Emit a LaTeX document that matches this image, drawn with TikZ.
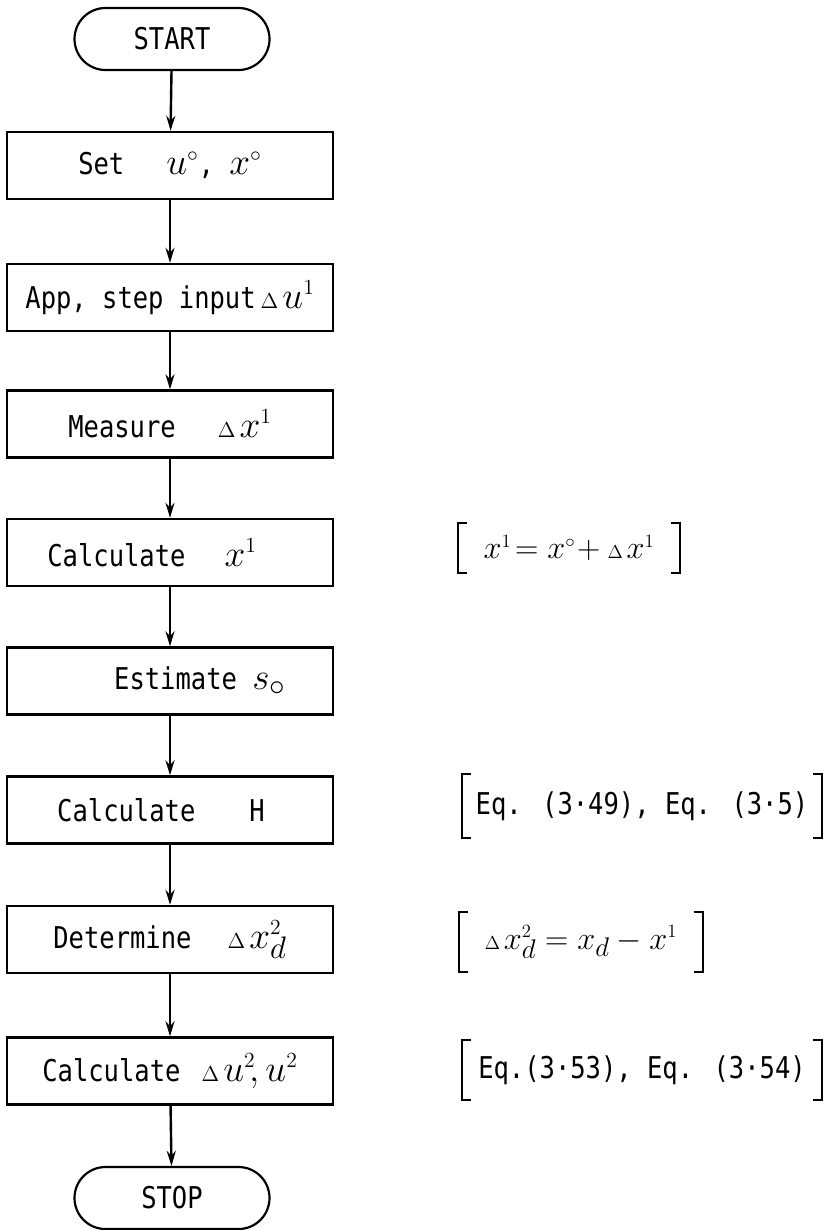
\documentclass[tikz,border=0pt]{standalone}
\usepackage{fontspec}
\newfontfamily\mono[FakeStretch=0.85]{DejaVu Sans Mono}
\usetikzlibrary{arrows.meta}
\newcommand{\dlt}{{\scriptscriptstyle\Delta}\mkern2mu}
\newcommand{\mth}[1]{\scalebox{1.5}{$#1$}}
\newcommand{\mtn}[1]{\scalebox{1.3}{$#1$}}
\newcommand{\po}{^{\scriptscriptstyle 1}}
\newcommand{\pz}{^{\scriptscriptstyle\circ}}
\newcommand{\pt}{^{\scriptscriptstyle 2}}
\begin{document}
\begin{tikzpicture}[x=1pt,y=-1pt,
  every node/.style={font=\mono\fontsize{30}{34}\selectfont},
  proc/.style={draw, line width=2.4pt, minimum width=326pt, minimum height=67pt, inner sep=0pt},
  term/.style={draw, line width=2.2pt, minimum width=195pt, minimum height=62pt, rounded corners=31pt, inner sep=0pt},
  flow/.style={line width=2.4pt, -{Stealth[length=15pt,width=9pt]}},
  note/.style={inner sep=0pt},
  brack/.style={line width=1.8pt}]
\useasboundingbox (0,0) rectangle (831,1230);
\node[term] (start) at (172,39) {START};
\node[proc] (n1) at (170,165.5) {Set\hspace{1.4em}\mth{u\pz}, \mth{x\pz}};
\node[proc] (n2) at (170,297.5) {App, step input\,\mth{\dlt u\po}};
\node[proc] (n3) at (170,424) {Measure\hspace{1.4em}\mth{\dlt x\po}};
\node[proc] (n4) at (170,552.5) {\hspace*{-1.2em}Calculate\hspace{1.3em}\mth{x\po}};
\node[proc] (n5) at (170,681) {\hspace*{2em}Estimate \mth{s_\circ}};
\node[proc] (n6) at (170,810) {\hspace*{-0.6em}Calculate\hspace{1.8em}H};
\node[proc] (n7) at (170,939.5) {Determine\hspace{1.2em}\mth{\dlt x_d\pt}};
\node[proc] (n8) at (170,1071) {Calculate\hspace{0.7em}\mth{\dlt u\pt\!, u\pt}};
\node[term] (stop) at (172,1198) {STOP};
\foreach \a/\b in {start/n1,n1/n2,n2/n3,n3/n4,n4/n5,n5/n6,n6/n7,n7/n8,n8/stop}
  \draw[flow] (\a) -- (\b);
\node[note, minimum width=222pt, minimum height=50pt] (e1) at (569,548) {\mtn{x\po\!= x\pz\!+ \dlt x\po}};
\node[note, minimum width=360pt, minimum height=63pt] (e2) at (642,806) {Eq. (3·49), Eq. (3·5)};
\node[note, minimum width=243pt, minimum height=59pt] (e3) at (581,942) {\mtn{\dlt x_d\pt = x_d - x\po}};
\node[note, minimum width=360pt, minimum height=60pt] (e4) at (642,1070) {Eq.(3·53), Eq. (3·54)};
\foreach \n in {e1,e2,e3,e4}{
  \draw[brack] ([xshift=9pt]\n.north west) -- (\n.north west) -- (\n.south west) -- ([xshift=9pt]\n.south west);
  \draw[brack] ([xshift=-9pt]\n.north east) -- (\n.north east) -- (\n.south east) -- ([xshift=-9pt]\n.south east);
}
\end{tikzpicture}
\end{document}
